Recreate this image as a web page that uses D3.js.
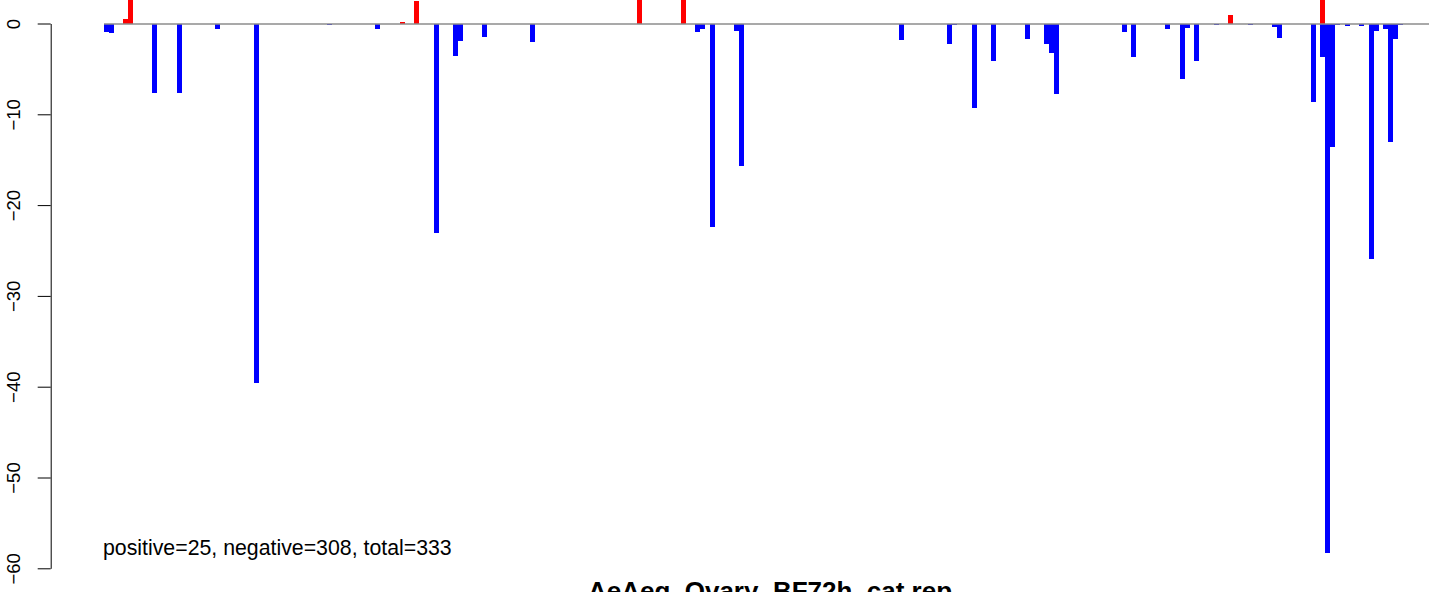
<!DOCTYPE html>
<html>
<head>
<meta charset="utf-8">
<script src="https://cdn.jsdelivr.net/npm/d3@7"></script>
<style>
  html, body { margin: 0; padding: 0; background: #fff; }
  svg { display: block; font-family: "Liberation Sans", Arial, Helvetica, sans-serif; }
</style>
</head>
<body>
<svg id="chart" width="1429" height="592"></svg>
<script>
// ---- data ----
// slot positions along the x axis
const positions = [0, 1, 4, 5, 10, 15, 23, 31, 46, 56, 61, 64, 68, 72, 73, 78, 88, 110, 119,
  122, 123, 125, 130, 131, 164, 174, 175, 179, 183, 190, 194, 195, 196, 210, 212, 219, 222,
  223, 225, 229, 232, 236, 241, 242, 249, 251, 251, 252, 253, 254, 256, 259, 261, 262, 264,
  265, 266, 267];
// values at those positions
const values = [-0.9, -1.05, 0.5, 5.0, -7.7, -7.7, -0.6, -39.6, -0.2, -0.6, 0.15, 2.48, -23.1,
  -3.58, -1.93, -1.49, -2.04, 4.5, 4.0, -0.94, -0.6, -22.4, -0.83, -15.7, -1.82, -2.26, -0.17,
  -9.35, -4.13, -1.71, -2.26, -3.25, -7.76, -0.94, -3.69, -0.6, -6.11, -0.5, -4.13, -0.17,
  0.94, -0.17, -0.39, -1.6, -8.65, 6.0, -3.69, -58.3, -13.6, -0.17, -0.28, -0.28, -25.9,
  -0.83, -0.6, -13.1, -1.71, -0.17];
const yTicks = [-60, -50, -40, -30, -20, -10, 0];
const summaryText = "positive=25, negative=308, total=333";
const titleText = "AeAeg_Ovary_BF72h_cat.rep";

// ---- drawing ----
const svg = d3.select("#chart");
const x = d3.scaleLinear().domain([0, 267]).range([106.5, 1400.5]);
const y = d3.scaleLinear().domain([-60, 0]).range([568.3, 23.5]);
const barW = 5;

const bars = positions.map((p, i) => ({ p, v: values[i] }));

svg.append("g")
  .selectAll("rect")
  .data(bars)
  .join("rect")
  .attr("x", d => x(d.p) - barW / 2)
  .attr("width", barW)
  .attr("y", d => Math.min(y(d.v), y(0)))
  .attr("height", d => Math.abs(y(d.v) - y(0)))
  .attr("fill", d => d.v > 0 ? "#ff0000" : "#0000ff")
  .attr("shape-rendering", "crispEdges");

// zero reference line
svg.append("line")
  .attr("x1", x(0) - barW / 2)
  .attr("x2", 1429)
  .attr("y1", y(0) + 0.5)
  .attr("y2", y(0) + 0.5)
  .attr("stroke", "#8c8c8c")
  .attr("stroke-width", 1.6);

// y axis
const axis = d3.axisLeft(y).tickValues(yTicks).tickSize(13).tickSizeOuter(0)
  .tickFormat(d => d < 0 ? "\u2212" + Math.abs(d) : String(d));
const gA = svg.append("g").attr("transform", "translate(50.7,0)").call(axis);
gA.select(".domain").attr("stroke", "#000").attr("stroke-width", 1);
gA.selectAll(".tick line").attr("stroke", "#000").attr("stroke-width", 1);
gA.selectAll(".tick text")
  .attr("x", 0).attr("y", 0).attr("dy", null)
  .attr("transform", "translate(-30.5,0) rotate(-90)")
  .attr("text-anchor", "middle")
  .attr("font-size", 18.5)
  .attr("font-family", "Liberation Sans, Arial, sans-serif")
  .attr("fill", "#000");

// summary annotation
svg.append("text")
  .attr("x", 103)
  .attr("y", 555)
  .attr("font-size", 21.3)
  .attr("fill", "#000")
  .text(summaryText);

// title (bottom, partly cut as in the reference)
svg.append("text")
  .attr("x", 770)
  .attr("y", 600)
  .attr("text-anchor", "middle")
  .attr("font-size", 26)
  .attr("font-weight", "bold")
  .attr("fill", "#000")
  .text(titleText);
</script>
</body>
</html>
